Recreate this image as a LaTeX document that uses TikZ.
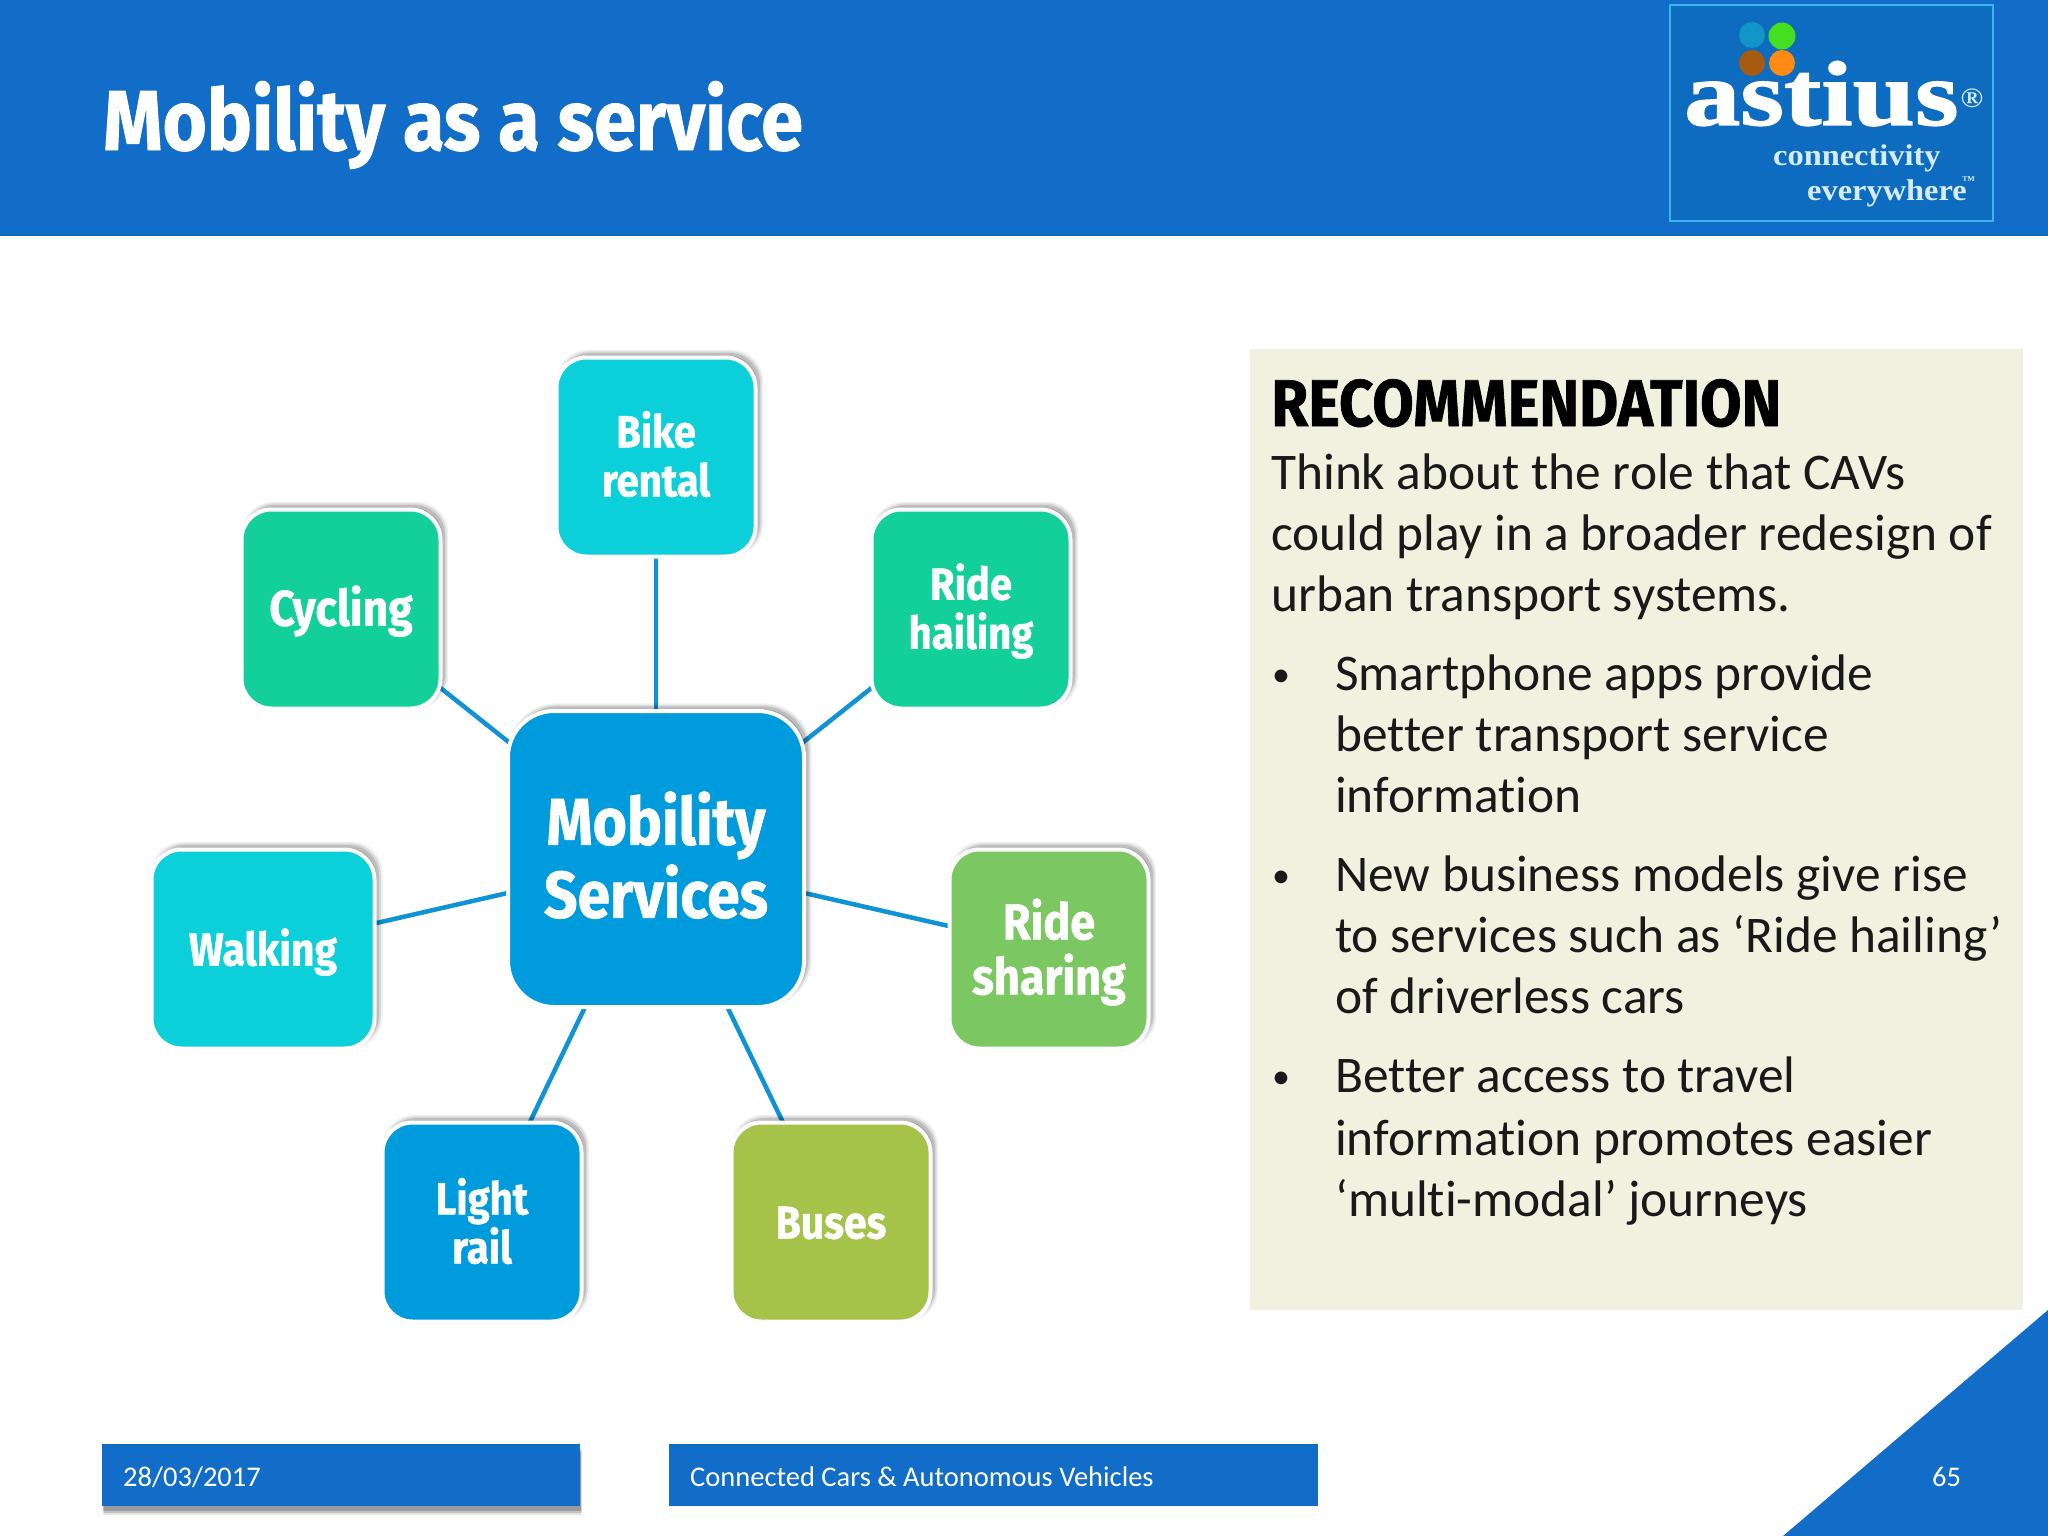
\documentclass[tikz,border=0pt]{standalone}
\usepackage{fontspec}
\setmainfont[Ligatures=NoCommon]{Carlito}
\newfontfamily\condf[FakeStretch=0.89,FakeBold=1]{Fira Sans}
\newfontfamily\recf[FakeStretch=0.91,FakeBold=1]{Fira Sans}
\newfontfamily\logof[FakeStretch=1.22,FakeBold=1.5]{Liberation Serif}
\newfontfamily\logosub[FakeStretch=1.08]{Liberation Serif}
\usetikzlibrary{shadows,backgrounds}
\definecolor{hdrblue}{HTML}{116DC8}
\definecolor{logoblue}{HTML}{0D6BC0}
\definecolor{logoedge}{HTML}{3CB4F0}
\definecolor{linkblue}{HTML}{0F93D6}
\definecolor{cyanbox}{HTML}{0BD0D9}
\definecolor{greenbox}{HTML}{13D09A}
\definecolor{bluebox}{HTML}{009BDD}
\definecolor{limebox}{HTML}{7BC862}
\definecolor{olivebox}{HTML}{A5C249}
\definecolor{panelbg}{HTML}{F0F1DF}
\definecolor{logotxt}{HTML}{D5ECF5}
\definecolor{dotblue}{HTML}{1296C8}
\definecolor{dotgreen}{HTML}{44E020}
\definecolor{dotbrown}{HTML}{A85A10}
\definecolor{dotorange}{HTML}{FF8A14}
\tikzset{
  softshadow/.style={
    drop shadow={shadow xshift=4pt,shadow yshift=4pt,shadow scale=1.035,opacity=.06,fill=black},
    drop shadow={shadow xshift=4pt,shadow yshift=4pt,shadow scale=1.02,opacity=.09,fill=black},
    drop shadow={shadow xshift=4pt,shadow yshift=4pt,shadow scale=1.005,opacity=.13,fill=black},
    drop shadow={shadow xshift=3pt,shadow yshift=3pt,shadow scale=.99,opacity=.18,fill=black}},
  hubshadow/.style={
    drop shadow={shadow xshift=4pt,shadow yshift=4pt,shadow scale=1.024,opacity=.06,fill=black},
    drop shadow={shadow xshift=4pt,shadow yshift=4pt,shadow scale=1.014,opacity=.09,fill=black},
    drop shadow={shadow xshift=4pt,shadow yshift=4pt,shadow scale=1.004,opacity=.13,fill=black},
    drop shadow={shadow xshift=3pt,shadow yshift=3pt,shadow scale=.994,opacity=.18,fill=black}},
  boxbase/.style={draw=white,line width=4pt,inner sep=0pt},
  smallbox/.style={softshadow,boxbase,rounded corners=30pt,minimum width=199pt,minimum height=199pt},
  bigbox/.style={hubshadow,boxbase,rounded corners=46pt,minimum width=296pt,minimum height=296pt},
  boxtext/.style={inner sep=0pt,align=center,text=white,font=\condf\bfseries\fontsize{45}{49}\selectfont},
  hubtext/.style={boxtext,font=\condf\bfseries\fontsize{66}{73}\selectfont},
  link/.style={draw=linkblue,line width=4.5pt},
  bodyline/.style={anchor=base west,inner sep=0pt,font=\fontsize{51.4}{60}\selectfont,text=black!90},
  bullet/.style={anchor=base west,inner sep=0pt,font=\fontsize{36}{40}\selectfont,text=black!90},
  foot/.style={anchor=base west,inner sep=0pt,text=white,font=\fontsize{28.5}{34}\selectfont},
  footbar/.style={fill=hdrblue,inner sep=0pt,minimum height=62pt,anchor=north west},
  logotext/.style={anchor=base west,inner sep=0pt,text depth=0pt}
}
\begin{document}
\begin{tikzpicture}[x=1pt,y=-1pt]
\useasboundingbox (0,0) rectangle (2048,1536);
% header
\fill[hdrblue] (0,0) rectangle (2048,236);
\node[anchor=base west,inner sep=0pt,text=white,font=\condf\bfseries\fontsize{85}{90}\selectfont] (title) at (103,150) {Mobility as a service};
% logo
\draw[draw=logoedge,fill=logoblue,line width=2.5pt] (1670,5) rectangle (1993,221);
\fill[dotblue] (1752,35) circle (13);
\fill[dotgreen] (1782,36) circle (13.5);
\fill[dotbrown] (1752,63) circle (13);
\fill[dotorange] (1782,63) circle (13);
\node[logotext,text=white] (astius) at (1684,125) {\logof\bfseries\fontsize{92}{92}\selectfont astius};
\node[anchor=center,inner sep=0pt,text=logotxt] (reg) at (1972,98) {\logosub\bfseries\fontsize{28}{28}\selectfont ®};
\node[logotext,text=logotxt] (conn) at (1773,165) {\logosub\bfseries\fontsize{30}{30}\selectfont connectivity};
\node[logotext,text=logotxt] (every) at (1807,200) {\logosub\bfseries\fontsize{30}{30}\selectfont everywhere};
\node[logotext,text=logotxt] (tm) at (1962,184) {\logosub\bfseries\fontsize{12}{12}\selectfont ™};
% hub and spokes
\node[bigbox,fill=bluebox] (hub) at (656,859) {};
\node[smallbox,fill=cyanbox] (bike) at (656,457) {};
\node[smallbox,fill=greenbox] (hail) at (971,609) {};
\node[smallbox,fill=greenbox] (cyc) at (341,609) {};
\node[smallbox,fill=cyanbox,minimum width=223pt] (walk) at (263,949) {};
\node[smallbox,fill=limebox] (share) at (1049,949) {};
\node[smallbox,fill=bluebox] (rail) at (482,1222) {};
\node[smallbox,fill=olivebox] (bus) at (831,1222) {};
\node[hubtext,yshift=4pt] (hubt) at (hub) {Mobility\\Services};
\node[boxtext,yshift=3pt] (biket) at (bike) {Bike\\rental};
\node[boxtext,yshift=-2pt] (hailt) at (hail) {Ride\\hailing};
\node[boxtext,yshift=-2pt,font=\condf\bfseries\fontsize{50}{54}\selectfont] (cyct) at (cyc) {Cycling};
\node[boxtext,yshift=-3pt,font=\condf\bfseries\fontsize{46}{50}\selectfont] (walkt) at (walk) {Walking};
\node[boxtext,yshift=-3pt,font=\condf\bfseries\fontsize{50.5}{55}\selectfont] (sharet) at (share) {Ride\\sharing};
\node[boxtext,yshift=1pt] (railt) at (rail) {Light\\rail};
\node[boxtext,yshift=-1pt,font=\condf\bfseries\fontsize{46}{50}\selectfont] (bust) at (bus) {Buses};
\begin{pgfonlayer}{background}
\fill[white] (0,0) rectangle (2048,1536);
\foreach \t in {bike,hail,cyc,walk,share,rail,bus}
  \draw[link] (hub.center) -- (\t.center);
\end{pgfonlayer}
% panel
\fill[panelbg] (1250,349) rectangle (2023,1310);
\node[anchor=base west,inner sep=0pt,text=black,font=\recf\bfseries\fontsize{66}{70}\selectfont] (rec) at (1271,426) {RECOMMENDATION};
\node[bodyline] (l1) at (1271,489) {Think about the role that CAVs};
\node[bodyline] (l2) at (1271,550) {could play in a broader redesign of};
\node[bodyline] (l3) at (1271,611) {urban transport systems.};
\node[bullet] (b1) at (1272,686) {•};
\node[bodyline] (l4) at (1335,690) {Smartphone apps provide};
\node[bodyline] (l5) at (1335,751) {better transport service};
\node[bodyline] (l6) at (1335,812) {information};
\node[bullet] (b2) at (1272,887) {•};
\node[bodyline] (l7) at (1335,891) {New business models give rise};
\node[bodyline] (l8) at (1335,952) {to services such as ‘Ride hailing’};
\node[bodyline] (l9) at (1335,1013) {of driverless cars};
\node[bullet] (b3) at (1272,1088) {•};
\node[bodyline] (l10) at (1335,1092) {Better access to travel};
\node[bodyline] (l11) at (1335,1155) {information promotes easier};
\node[bodyline] (l12) at (1335,1216) {‘multi-modal’ journeys};
% footer
\node[footbar,minimum width=478pt,
  drop shadow={shadow xshift=1pt,shadow yshift=-9pt,opacity=.10,fill=black},
  drop shadow={shadow xshift=2pt,shadow yshift=-7pt,opacity=.15,fill=black},
  drop shadow={shadow xshift=1pt,shadow yshift=-5pt,opacity=.20,fill=black}] (datebar) at (102,1444) {};
\node[footbar,minimum width=649pt] (namebar) at (669,1444) {};
\node[foot] (date) at (123,1486) {28/03/2017};
\node[foot] (name) at (690,1486) {Connected Cars \& Autonomous Vehicles};
\fill[hdrblue] (1783,1536) -- (2048,1310) -- (2048,1536) -- cycle;
\node[foot] (page) at (1932,1486) {65};
\end{tikzpicture}
\end{document}
